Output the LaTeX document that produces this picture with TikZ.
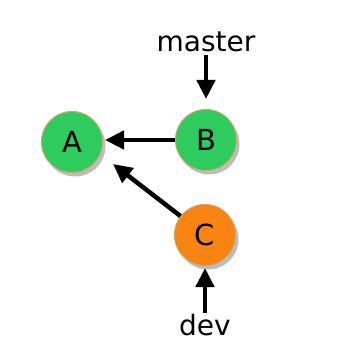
\documentclass[tikz,border=0pt]{standalone}
\usepackage{fontspec}
\setmainfont{DejaVu Sans}
\usetikzlibrary{arrows.meta}
\definecolor{cgreen}{HTML}{2ECC5E}
\definecolor{corange}{HTML}{FA8411}
\definecolor{cborder}{HTML}{C9A86A}
\definecolor{cshadow}{HTML}{BDBDBD}
\tikzset{
  commit/.style={circle, minimum size=61pt, inner sep=0pt, draw=cborder, line width=1pt, font=\fontsize{29}{29}\selectfont},
  shadowc/.style={circle, minimum size=61pt, inner sep=0pt, fill=cshadow},
  lbl/.style={font=\fontsize{28}{28}\selectfont, inner sep=0pt},
  arr/.style={-{Triangle[length=19pt,width=18pt]}, line width=4.5pt}
}
\begin{document}
\begin{tikzpicture}[x=1pt,y=-1pt]
\useasboundingbox (0,0) rectangle (340,350);
\fill[white] (0,0) rectangle (340,350);
\node[shadowc] at (75,146) {};
\node[shadowc] at (209,144) {};
\node[shadowc] at (208,239) {};
\node[commit, fill=cgreen] (A) at (72,142) {A};
\node[commit, fill=cgreen] (B) at (206,140) {B};
\node[commit, fill=corange] (C) at (205,235) {C};
\node[lbl] (master) at (206,42) {master};
\node[lbl] (dev) at (205,325) {dev};
\coordinate (mstart) at (206,55);
\coordinate (dstart) at (205,313);
\coordinate (mtip) at (206,99);
\coordinate (dtip) at (205,268);
\coordinate (btip) at (105,140);
\coordinate (ctip) at (113,164);
\draw[arr] (mstart) -- (mtip);
\draw[arr] (dstart) -- (dtip);
\draw[arr] (B.west) -- (btip);
\draw[arr] (C) -- (ctip);
\end{tikzpicture}
\end{document}
